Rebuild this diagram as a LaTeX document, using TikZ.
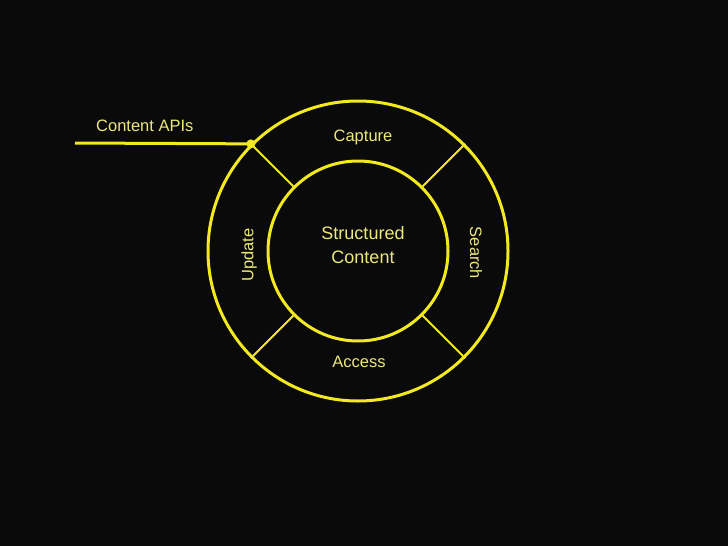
\documentclass[tikz,border=0pt]{standalone}
\usepackage{fontspec}
\setmainfont{Liberation Sans}
\definecolor{bg}{HTML}{0A0A0A}
\definecolor{yl}{HTML}{F2EA1E}
\definecolor{tx}{HTML}{EDE87A}
\begin{document}
\begin{tikzpicture}[x=1pt,y=-1pt,
  lbl/.style={text=tx,font=\fontsize{16.5}{19}\selectfont,inner sep=0pt},
  ring/.style={draw=yl,line width=3pt},
  div/.style={draw=yl,line width=1.8pt}]
\fill[bg] (0,0) rectangle (728,546);
\useasboundingbox (0,0) rectangle (728,546);
\coordinate (c) at (358,251);
\node[ring,circle,minimum size=300pt,inner sep=0pt] (outer) at (c) {};
\node[ring,circle,minimum size=180pt,inner sep=0pt] (inner) at (c) {};
\foreach \a in {45,135,225,315}{
  \draw[div] (inner.\a) -- (outer.\a);
}
\coordinate (dot) at (outer.135);
\coordinate (apiend) at (75,143);
\draw[yl,line width=3pt] (apiend) -- (dot);
\fill[yl] (dot) circle (4.5pt);
\node[lbl] (cap) at (363,137) {Capture};
\node[lbl,align=center,font=\fontsize{18}{24}\selectfont] (sc) at (363,245) {Structured\\Content};
\node[lbl] (acc) at (359,362) {Access};
\node[lbl,rotate=90] (upd) at (249,255) {Update};
\node[lbl,rotate=-90] (sea) at (476,253) {Search};
\node[lbl,anchor=west] (api) at (96,126) {Content APIs};
\end{tikzpicture}
\end{document}
